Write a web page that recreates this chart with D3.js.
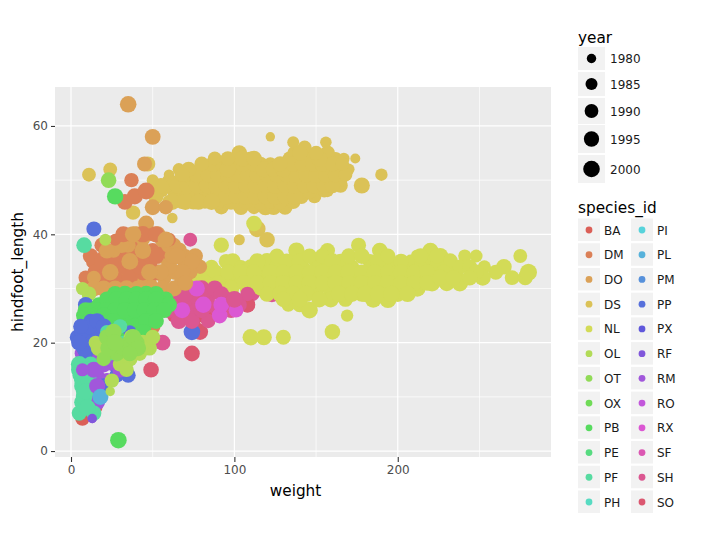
<!DOCTYPE html>
<html><head><meta charset="utf-8">
<script src="https://cdn.jsdelivr.net/npm/d3@7/dist/d3.min.js"></script>
<style>html,body{margin:0;padding:0;background:#fff}svg{display:block;font-family:"DejaVu Sans",sans-serif}</style>
</head><body><svg id="c" width="703" height="540"></svg>
<script>
const speciesIds=["BA","DM","DO","DS","NL","OL","OT","OX","PB","PE","PF","PH","PI","PL","PM","PP","PX","RF","RM","RO","RX","SF","SH","SO"];
const legendYears=[1980,1985,1990,1995,2000];
const xTicks=[0,100,200], yTicks=[0,20,40,60], xMinor=[50,150,250], yMinor=[10,30,50];
// points: [weight, hindfoot_length, year]
const soLow=[[108,27,1995],[79,22,1998],[74,18,1997],[49,15,1996],[77,25,1995],[70,25,1999],[82,25,1997],[63,25,1990],[88,26,1994],[95,27,1996],[75,23,1996]];
const baLow=[[7,6,1992],[10,7,1991],[15,8,1990]];
const rmLow=[[13,6,1980],[8,9,1995],[7,18,1996],[6,16,1994],[9,12,1992],[9,20,1990],[10,14,1998],[16,9,1994]];
const shLow=[[123,29,2000],[132,29,2000],[73,39,1990],[111,29,1992],[116,30,1995]];
const ppLow=[[74,22,2000]];
const dsMain=[
[92,45,1992],[104,45,1995],[112,45,1990],[119,45,1998],[124,45,1996],[131,45,1994],
[60,46,1989],[68,46,1992],[75,46,1996],[82,46,1990],[90,46,1994],[98,46,1997],[107,46,1993],[116,46,1999],[122,46,1991],[128,46,1995],[136,46,1992],[141,47,1994],
[56,48,1985],[63,48,1990],[70,48,1994],[77,48,1991],[84,48,1996],[92,48,1993],[99,48,1998],[105,48,1990],[112,48,1995],[118,48,1992],[125,48,1997],[132,48,1994],[138,48,1991],[144,48,1996],[149,47,1990],[155,48,1988],[165,49,1992],[178,49,1998],[157,48,1986],
[60,50,1988],[66,50,1986],[73,50,1992],[80,50,1994],[88,50,1990],[95,50,1996],[101,50,1993],[108,50,1997],[115,50,1991],[121,50,1995],[128,50,1992],[134,50,1998],[140,50,1990],[147,50,1994],[153,50,1991],[160,50,1996],[165,50,1988],
[66,52,1986],[74,51,1988],[81,52,1990],[87,52,1994],[94,52,1991],[100,52,1997],[107,52,1993],[113,52,1996],[120,52,1990],[127,52,1995],[133,52,1992],[140,52,1998],[146,52,1991],[152,52,1994],[158,52,1990],[164,52,1986],[170,52,1984],
[92,53,1990],[98,53,1995],[110,53,1993],[130,53,1991],
[103,54,1994],[110,54,1990],[116,53,1992],[122,53,1989],[128,53,1986],[134,54,1992],[140,54,1990],[145,54,1995],[150,54,1991],[156,54,1994],[162,54,1988],[167,54,1984],[174,54,1981],
[103,55,1996],[137,55,1993],[143,55,1997],[148,54,1992],[157,55,1994],
[143,56,1991],[136,57,1985],[156,57,1984],[122,58,1980],[190,51,1986],
[114,41,2000],[120,39,1996],[103,39,1983],[50,48,1990],[60,51,1982],[62,50,1980],[38,44,1992],[62,43,1982],[11,51,1990],[24,52,1990],[47,53,1994]];
const dsFill=[
[64,47,1996],[71,47,1998],[77,47,1995],[83,47,1999],[89,47,1996],[95,47,1998],[101,47,1995],[107,47,1999],[113,47,1997],[119,47,1996],[125,47,1999],[131,47,1996],[137,47,1998],[146,48,1996],
[58,49,1994],[65,49,1997],[71,49,1995],[77,49,1999],[83,49,1996],[89,49,1998],[95,49,1995],[101,49,1999],[107,49,1996],[113,49,1998],[119,49,1995],[125,49,1999],[131,49,1996],[137,49,1998],[143,49,1995],[149,49,1998],[155,49,1996],[160,49,1995],
[70,51,1994],[77,51,1997],[84,51,1995],[90,51,1999],[96,51,1996],[102,51,1998],[108,51,1995],[114,51,1999],[120,51,1996],[126,51,1998],[132,51,1995],[138,51,1999],[144,51,1996],[150,51,1998],[156,51,1995],[162,51,1996],[168,51,1990],
[87,53,1996],[93,53,1999],[99,53,1996],[105,53,1998],[112,53,1996],[118,52,1999],[124,52,1996],[130,52,1998],[136,53,1996],[142,53,1999],[148,53,1996],[154,53,1998],[160,53,1995],[166,53,1990],
[105,54,1998],[112,54,1996],[128,53,1995],[140,55,1996],[152,54,1998],[96,52,1999],[150,55,1992],
[62,46,1999],[70,46,1999],[78,46,1998],[86,46,1999],[52,47,1995],[55,49,1995],[50,50,1985],[72,52,1995],[80,53,1993],[88,54,1990],[96,54,1992],[68,51,1993]];
const nlMain=[
[112,42,1996],[92,38,1995],[138,37,1999],[157,37,1994],[176,38,1994],[189,37,1996],[275,36,1990],[241,36,1988],[248,36,1987],[220,37,1997],[226,36,1998],[212,36,1988],
[95,35,1994],[99,35,1998],[104,34,1990],[120,35,2000],[133,34,1992],[150,35,1994],[165,35,1996],[183,35,1993],[197,34,1997],[208,35,1990],[218,35,1996],[232,35,1998],[236,33,1992],
[62,33,1990],[70,34,1993],[78,34,1997],[86,34,1991],[110,34,1995],[118,33,1992],[126,34,1996],[142,34,1990],[158,34,1997],[172,34,1992],[190,34,1995],[205,33,1994],[214,34,1991],[224,34,1996],[265,34,1996],[260,33,1994],[253,34,1988],
[68,31,1991],[76,32,1994],[84,32,1990],[92,32,1996],[100,32,1992],[108,32,1997],[116,31,1993],[124,32,1990],[132,32,1998],[140,32,1994],[148,32,1991],[156,32,1997],[164,32,1993],[172,32,1996],[180,32,1990],[188,32,1998],[196,32,1992],[204,32,1996],[212,32,1994],[222,32,1997],[230,31,1999],[238,31,2000],[252,32,1998],[270,32,1993],[278,32,1994],[280,33,2002],
[108,30,1996],[116,30,1992],[124,30,1994],[134,30,1997],[142,30,1991],[150,30,1996],[158,30,1993],[166,30,1998],[174,30,1994],[182,30,1999],[190,30,1992],[198,30,1996],[205,30,1994],[212,30,1999],[221,31,2000],
[133,27,1990],[140,27,1994],[146,26,2000],[159,28,1999],[178,29,1996],[185,28,2001],[194,28,2002],[200,29,1998],[150,29,1995],[169,25,1986],[160,22,1996],[110,21,1999],[118,21,1998],[130,21,1994],[101,28,1990],[168,28,1994]];
const nlFill=[
[98,33,1998],[106,33,1996],[114,35,1999],[126,36,1994],[132,35,1997],[140,35,1999],[146,36,1994],[154,36,1996],[160,35,1998],[170,36,1995],[178,36,1997],[188,35,1999],[194,36,1994],[202,35,1996],[214,36,1995],[224,36,1994],[238,34,1992],[244,34,1994],[248,33,1996],
[80,33,1997],[88,33,1998],[96,33,1995],[104,33,1999],[112,33,1996],[122,33,1998],[130,33,1996],[138,33,1999],[146,33,1996],[154,33,1998],[162,33,1996],[170,33,1999],[178,33,1996],[186,33,1998],[194,33,1996],[202,33,1999],[210,33,1996],[218,33,1998],[228,33,1996],[244,32,1996],
[72,32,1996],[82,31,1998],[90,31,1996],[98,30,1999],[106,31,1996],[114,31,1998],[122,31,1996],[130,31,1999],[138,31,1996],[146,31,1998],[154,31,1996],[162,31,1999],[170,31,1996],[178,31,1998],[186,31,1996],[194,31,1999],[202,31,1996],[210,31,1998],[218,31,1996],[226,32,1998],[234,32,1996],
[120,29,1996],[128,29,1999],[136,29,1998],[144,29,1999],[152,28,1998],[164,29,1999],[172,29,1998],[180,29,1999],[188,29,2000],[196,29,1999],[206,29,1999],[140,28,1998],[130,28,1996]];
const shTop=[[56,20,1997],[62,29,1993],[68,28,1995],[64,26,1992],[72,27,1996],[78,28,1998],[86,29,1990],[76,26,1990],[84,24,1992],[90,26,1994],[95,28,1996],[103,27,1994],[108,29,1992],
[60,28,1998],[66,30,1996],[72,30,1997],[80,30,1999],[88,30,1998],[92,29,1996],[60,26,1997],[66,24,1998],[74,24,1997],[80,26,1998],[98,26,1996],[70,29,1999],[84,27,1998]];
const rxTop=[[68,26,1998],[77,30,1998],[81,27,1999],[91,25,1996],[92,27,1997],[101,26,1993],[50,26,1995]];
const so2=[[108,27,1996]];
const sh2=[[100,28,2001]];
const dmEdge=[[12,36,1996],[9,32,1992],[17,33,1995],[33,46,1997],[39,47,1998],[46,48,2001],[37,50,1992]];
const doA=[[35,64,2000],[50,58,1997],[45,53,1994],[50,45,1997],[58,45,1992],[46,42,1997],[76,36,1996],[79,34,1991],[14,32,1990],[26,37,1992],[35,38,1994],[44,39,1990],[56,39,1995],[63,38,1993],[70,36,1990],[73,33,1992],[64,33,1996],
[60,38,1998],[66,37,1999],[70,35,1998],[74,35,1996],[68,33,1999],[60,34,1998],[55,33,1997],[62,36,1996],[53,40,1998],[46,40,1996],[40,40,1998],[31,38,1996],[22,37,1997],
[14,30,1997],[20,30,1998],[27,30,1998],[34,30,1999],[41,30,1998],[49,30,1999],[56,30,1998],[63,30,1997],[70,31,1996]];
const dmA=[[21,36,1996],[29,37,1992],[24,33,1994],[33,34,1996],[41,38,1996],[50,37,1994],[58,37,1999],[38,34,1998],[46,34,1992],[22,32,1990],[32,31,1992],
[14,35,1997],[15,33,1998],[19,35,1999],[19,38,1995],[24,36,1998],[28,35,1999],[31,39,1996],[35,37,1998],[38,38,1999],[43,37,1998],[48,35,1999],[52,36,1998],[27,32,1999],[36,32,1998],[44,33,1999],[52,33,1998],[18,32,1999]];
const doB=[[20,34,1996],[29,34,1994],[36,36,1997],[44,36,2000],[54,36,1996],[49,33,1994],[60,35,1998],[31,33,2000],[40,32,1995],[57,32,1992],[67,31,1990],[22,30,1990],[15,30,1990],[48,31,1995]];
const dmB=[[35,40,1990],[42,40,1988],[50,40,1990],[60,39,1990],[27,39,1985],[38,35,2000],[42,34,1999],[34,35,1998],[32,40,1998],[44,40,2000],[52,40,1999]];
const doTop=[[38,40,1999],[58,39,1999],[44,37,2000],[36,35,2001],[24,33,2000],[48,33,2000],[65,36,1999]];
const olEdge=[[21,39,1985],[11,29,1993],[13,25,1996],[7,30,1988]];
const ppMid=[[9,27,1996],[14,41,1994]];
const pfEdge=[[8,38,1996]];
const otEdge=[[23,50,1996]];
const rxEdge=[[51,25,1994],[45,23,1988]];
const dmLow=[[50,23,1996],[49,21,1997],[44,21,1988]];
const pbA=[[27,47,1999],
[27,29,1997],[33,29,1998],[40,29,1997],[46,29,1998],[52,29,1997],[58,28,1996],
[17,27,1994],[23,27,1992],[29,27,1998],[35,27,1996],[41,27,1992],[47,27,1995],[53,27,1991],[57,27,1997],
[12,26,1996],[18,26,1990],[24,25,1996],[30,25,1992],[36,25,1995],[42,25,1998],[48,25,1996],[54,26,1993],
[11,24,1995],[17,24,1994],[24,24,1993],[31,24,1996],[37,24,1990],[45,23,1992],[29,2,2000],[20,23,1991],[42,23,1993]];
const pbFill=[[22,28,1997],[28,28,1999],[34,28,1998],[40,28,1997],[46,28,1999],[52,28,1998],[60,27,1997],[9,26,1998],[15,26,1999],[21,26,1997],[27,26,1998],[33,26,1999],[39,26,1997],[45,26,1998],[51,26,1999],[57,26,1997],[8,25,1998],[14,25,1997],[20,25,1999],[26,24,1998],[33,23,1999],[39,23,1997],[46,24,1998],[52,24,1997],[28,22,1999],[36,22,1998],[44,22,1997]];
const ppA=[[4,21,1996],[10,21,1998],[15,22,1999],[18,23,1996],[12,24,1992],[22,21,1992],[15,19,1990],[9,18,1992],[36,22,1988],[35,14,1994],[28,14,1993],[20,12,1995],
[7,22,1999],[11,23,1998],[16,24,1996],[20,23,1998],[13,20,2000],[18,20,1999],[8,19,1998],[6,23,1995],[5,20,1998]];
const rmA=[[9,17,1990],[12,15,1995],[16,14,1992],[14,15,1997],[18,16,1994],[30,15,1997],[26,16,1993],[22,13,1994],[15,12,1993],[16,9,1996],[8,8,1996],[18,10,1990],
[8,16,1998],[12,18,1998],[16,17,1999],[20,16,1998],[24,17,1997],[28,16,1998],[15,11,2000],[17,13,2000],[14,14,1999]];
const pfA=[[22,22,1990],[30,23,1992],[24,18,1992],[32,20,1990],[5,16,2000],[6,14,2000],[7,12,2000],[7,9,2000],[8,11,1999],[14,7,1994],[5,7,1994],[10,13,1998],[12,16,1996],[18,19,1997],[26,20,1998],[5,15,1999],[7,13,2000],[8,10,2000],[9,15,1999],[10,15,2000],[11,13,2000],[9,11,2000],[10,8,1999]];
const plA=[[18,10,1998]];
const otA=[[25,20,1999],[22,21,1998],[40,20,1999],[28,18,1997],[35,20,1990],[32,19,1994],[20,17,1992],[38,21,1999],[26,22,1999],[23,19,2000],[27,20,2001],[41,19,1998],[36,18,1996]];
const olA=[[42,18,1993],[48,19,1994],[30,16,1992],[36,17,1995],[25,13,1992],[24,11,1980],[37,21,1996],[22,20,1996],[15,20,1990],[44,20,1998],[50,21,1994],[34,15,1992],[17,19,1998]];
const rmTop=[[14,15,1998],[16,12,1998],[7,15,1988],[30,15,1996]];
const rfA=[[13,6,1980]];
const layers=[["SO",soLow],["BA",baLow],["RM",rmLow],["SH",shLow],["PP",ppLow],["DS",dsMain],["DS",dsFill],["NL",nlMain],["NL",nlFill],["SO",so2],["SH",shTop],["RX",rxTop],["SH",sh2],["DM",dmEdge],["DO",doB],["DM",dmA],["DO",doA],["DM",dmB],["DO",doTop],["OL",olEdge],["PP",ppMid],["PF",pfEdge],["OT",otEdge],["RX",rxEdge],["DM",dmLow],["PB",pbA],["PB",pbFill],["RM",rmA],["PP",ppA],["PF",pfA],["RM",rmTop],["PL",plA],["OL",olA],["OT",otA],["RF",rfA]];

const svg=d3.select("#c");
const x=d3.scaleLinear().domain([-9.8,293.8]).range([55,551]);
const y=d3.scaleLinear().domain([-1.1,67.1]).range([457,87.5]);
const rScale=d3.scaleSqrt().domain([0,25]).range([2.67,8.54]);
const r=yr=>rScale(yr-1977);
const hue=d3.scaleOrdinal(speciesIds,speciesIds.map((s,i)=>d3.hsl((i/24+0.01)*360,0.65,0.6).formatHex()));

svg.append("rect").attr("x",55).attr("y",87).attr("width",496).attr("height",370).attr("fill","#ebebeb");
const grid=svg.append("g").attr("stroke","#fff").attr("fill","none");
grid.selectAll(".vm").data(xMinor).join("line").attr("x1",x).attr("x2",x).attr("y1",87).attr("y2",457).attr("stroke-width",0.7);
grid.selectAll(".hm").data(yMinor).join("line").attr("y1",y).attr("y2",y).attr("x1",55).attr("x2",551).attr("stroke-width",0.7);
grid.selectAll(".vM").data(xTicks).join("line").attr("x1",x).attr("x2",x).attr("y1",87).attr("y2",457).attr("stroke-width",1.2);
grid.selectAll(".hM").data(yTicks).join("line").attr("y1",y).attr("y2",y).attr("x1",55).attr("x2",551).attr("stroke-width",1.2);

svg.append("g").selectAll("g").data(layers).join("g").attr("fill",d=>hue(d[0]))
  .selectAll("circle").data(d=>d[1]).join("circle")
  .attr("cx",d=>x(d[0])).attr("cy",d=>y(d[1])).attr("r",d=>r(d[2]));

const ax=svg.append("g").attr("transform","translate(0,457)").call(d3.axisBottom(x).tickValues(xTicks).tickSize(5).tickPadding(3.5));
const ay=svg.append("g").attr("transform","translate(55,0)").call(d3.axisLeft(y).tickValues(yTicks).tickSize(4).tickPadding(3));
[ax,ay].forEach(a=>{a.select(".domain").remove();a.selectAll("line").attr("stroke","#333").attr("stroke-width",1.1);
 a.selectAll("text").attr("fill","#4d4d4d").style("font-size","12px").style("font-family",'"DejaVu Sans"');});
svg.append("text").attr("x",295.5).attr("y",496).attr("text-anchor","middle").attr("font-size",15.3).attr("fill","#000").text("weight");
svg.append("text").attr("transform","translate(23,272) rotate(-90)").attr("text-anchor","middle").attr("font-size",15.3).text("hindfoot_length");

// legends
svg.append("text").attr("x",578).attr("y",43).attr("font-size",15.3).text("year");
const yearKeyTop=d3.scaleOrdinal(legendYears,[47,72,98,125,155]), yearKeyH=d3.scaleOrdinal(legendYears,[23,24,26,28,28]);
const yk=svg.append("g").selectAll("g").data(legendYears).join("g");
yk.append("rect").attr("x",578).attr("y",d=>yearKeyTop(d)).attr("width",27).attr("height",d=>yearKeyH(d)).attr("fill","#f2f2f2");
yk.append("circle").attr("cx",591.5).attr("cy",d=>yearKeyTop(d)+yearKeyH(d)/2).attr("r",d=>r(d)).attr("fill","#000");
yk.append("text").attr("x",610).attr("y",d=>yearKeyTop(d)+yearKeyH(d)/2+4.5).attr("font-size",12).attr("fill","#1a1a1a").text(d=>d);

svg.append("text").attr("x",578).attr("y",213).attr("font-size",15.3).text("species_id");
const rows=d3.scalePoint().domain(d3.range(12)).range([230,502]);
const sk=svg.append("g").selectAll("g").data(speciesIds).join("g")
  .attr("transform",(d,i)=>`translate(${i<12?578:631},${rows(i%12)})`);
sk.append("rect").attr("x",0).attr("y",-11.5).attr("width",22).attr("height",22.5).attr("fill","#f2f2f2");
sk.append("circle").attr("cx",11).attr("cy",0).attr("r",3.4).attr("fill",d=>hue(d));
sk.append("text").attr("x",26).attr("y",4.5).attr("font-size",12).attr("fill","#1a1a1a").text(d=>d);
</script></body></html>
